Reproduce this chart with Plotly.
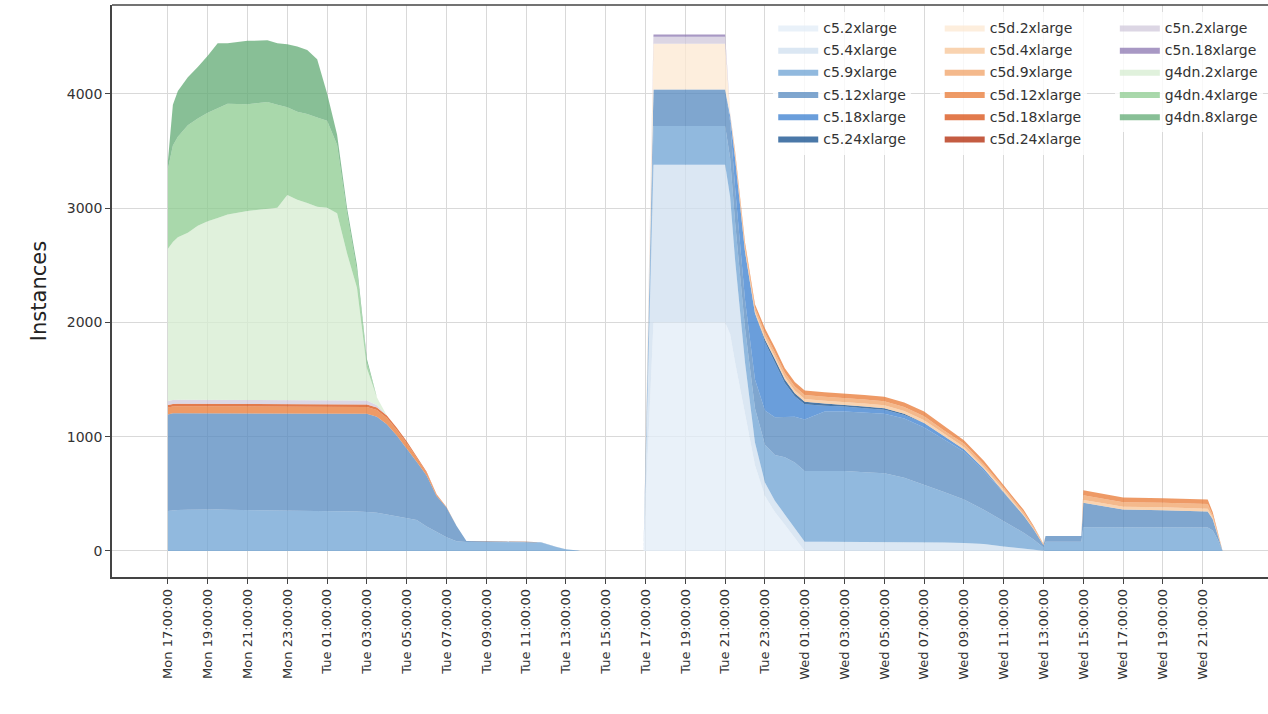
import pandas as pd
import plotly.graph_objects as go

# Sample times, in hours after Monday 17:00
hours = [
    0, 0.25, 0.5, 1, 1.5, 2, 2.5, 3, 4, 5, 5.5, 6, 6.5, 7, 7.5, 8, 8.5, 9, 9.5, 10,
    10.5, 11, 11.5, 12, 12.5, 13, 13.5, 14, 14.5, 15, 16, 17, 18, 18.75, 19.5, 20, 20.6,
    20.7, 23.9,
    24.4, 28.0, 28.25, 28.5, 29, 29.5, 30, 30.5, 31, 31.5, 32,
    33, 34, 35, 36, 37, 38, 39, 40, 41, 42, 43, 43.5, 44.0,
    44.1, 45.9, 46.0, 47, 48, 50, 52, 52.25, 52.5, 52.75, 53,
]

# Running instance counts per instance type (stack order = legend order)
c5_2xlarge = [
    0, 0, 0, 0, 0, 0, 0, 0, 0, 0, 0, 0, 0, 0, 0, 0, 0, 0, 0, 0,
    0, 0, 0, 0, 0, 0, 0, 0, 0, 0, 0, 0, 0, 0, 0, 0, 0,
    0, 0,
    2000, 2000, 1900, 1650, 1200, 750, 480, 340, 230, 110, 0,
    0, 0, 0, 0, 0, 0, 0, 0, 0, 0, 0, 0, 0,
    0, 0, 0, 0, 0, 0, 0, 0, 0, 0, 0,
]
c5_4xlarge = [
    0, 0, 0, 0, 0, 0, 0, 0, 0, 0, 0, 0, 0, 0, 0, 0, 0, 0, 0, 0,
    0, 0, 0, 0, 0, 0, 0, 0, 0, 0, 0, 0, 0, 0, 0, 0, 0,
    0, 0,
    1380, 1380, 1200, 900, 450, 200, 120, 100, 90, 85, 80,
    80, 80, 80, 80, 80, 80, 75, 70, 60, 40, 20, 10, 0,
    0, 0, 0, 0, 0, 0, 0, 0, 0, 0, 0,
]
c5_9xlarge = [
    350, 355, 358, 360, 362, 362, 362, 360, 358, 360, 358, 356, 356, 355, 352, 350, 350, 348, 345, 342,
    335, 320, 305, 290, 270, 215, 170, 120, 85, 78, 78, 77, 76, 74, 35, 15, 3,
    0, 0,
    340, 340, 340, 330, 300, 300, 330, 400, 500, 580, 620,
    620, 620, 610, 600, 560, 500, 440, 380, 300, 220, 140, 90, 30,
    80, 80, 207, 207, 207, 207, 207, 205, 180, 100, 0,
]
c5_12xlarge = [
    845, 850, 848, 846, 844, 843, 843, 845, 847, 845, 847, 849, 849, 850, 852, 855, 855, 857, 858, 858,
    840, 790, 705, 610, 510, 445, 310, 260, 135, 10, 5, 5, 4, 3, 2, 1, 0,
    0, 0,
    320, 320, 320, 300, 250, 250, 300, 330, 350, 400, 450,
    520, 520, 520, 520, 520, 500, 460, 420, 340, 250, 150, 90, 20,
    50, 50, 215, 185, 155, 150, 145, 140, 100, 40, 0,
]
c5_18xlarge = [
    0, 0, 0, 0, 0, 0, 0, 0, 0, 0, 0, 0, 0, 0, 0, 0, 0, 0, 0, 0,
    0, 0, 0, 0, 0, 0, 0, 0, 0, 0, 0, 0, 0, 0, 0, 0, 0,
    0, 0,
    0, 0, 50, 260, 420, 580, 600, 480, 300, 180, 135,
    50, 45, 40, 35, 30, 40, 30, 20, 20, 10, 0, 0, 0,
    0, 0, 0, 0, 0, 0, 0, 0, 0, 0, 0,
]
c5_24xlarge = [
    0, 0, 0, 0, 0, 0, 0, 0, 0, 0, 0, 0, 0, 0, 0, 0, 0, 0, 0, 0,
    0, 0, 0, 0, 0, 0, 0, 0, 0, 0, 0, 0, 0, 0, 0, 0, 0,
    0, 0,
    0, 0, 0, 0, 0, 0, 20, 30, 30, 25, 20,
    20, 15, 15, 15, 10, 0, 0, 0, 0, 0, 0, 0, 0,
    0, 0, 0, 0, 0, 0, 0, 0, 0, 0, 0,
]
c5d_2xlarge = [
    0, 0, 0, 0, 0, 0, 0, 0, 0, 0, 0, 0, 0, 0, 0, 0, 0, 0, 0, 0,
    0, 0, 0, 0, 0, 0, 0, 0, 0, 0, 0, 0, 0, 0, 0, 0, 0,
    0, 0,
    400, 400, 20, 10, 0, 0, 0, 0, 0, 0, 0,
    0, 0, 0, 0, 0, 0, 0, 0, 0, 0, 0, 0, 0,
    0, 0, 0, 0, 0, 0, 0, 0, 0, 0, 0,
]
c5d_4xlarge = [
    0, 0, 0, 0, 0, 0, 0, 0, 0, 0, 0, 0, 0, 0, 0, 0, 0, 0, 0, 0,
    0, 0, 0, 0, 0, 0, 0, 0, 0, 0, 0, 0, 0, 0, 0, 0, 0,
    0, 0,
    0, 0, 0, 10, 20, 20, 25, 25, 25, 25, 25,
    25, 25, 25, 25, 25, 25, 20, 20, 15, 15, 10, 5, 0,
    0, 0, 25, 25, 25, 25, 25, 25, 15, 5, 0,
]
c5d_9xlarge = [
    0, 0, 0, 0, 0, 0, 0, 0, 0, 0, 0, 0, 0, 0, 0, 0, 0, 0, 0, 0,
    0, 0, 0, 0, 0, 0, 0, 0, 0, 0, 0, 0, 0, 0, 0, 0, 0,
    0, 0,
    0, 0, 0, 20, 30, 30, 35, 35, 35, 35, 35,
    35, 35, 35, 35, 35, 35, 30, 30, 25, 20, 20, 15, 10,
    0, 0, 40, 40, 40, 40, 40, 40, 20, 5, 0,
]
c5d_12xlarge = [
    60, 60, 60, 60, 60, 60, 60, 60, 60, 60, 60, 60, 60, 60, 60, 60, 60, 60, 60, 60,
    58, 55, 50, 45, 35, 25, 12, 5, 0, 0, 0, 0, 0, 0, 0, 0, 0,
    0, 0,
    0, 0, 0, 20, 30, 30, 40, 40, 40, 40, 40,
    40, 40, 40, 40, 40, 40, 40, 30, 30, 25, 20, 10, 0,
    0, 0, 45, 40, 40, 40, 40, 40, 25, 10, 0,
]
c5d_18xlarge = [
    22, 22, 22, 22, 22, 22, 22, 22, 22, 22, 22, 22, 22, 22, 22, 22, 22, 22, 22, 22,
    22, 20, 18, 15, 12, 8, 4, 0, 0, 0, 0, 0, 0, 0, 0, 0, 0,
    0, 0,
    0, 0, 0, 0, 0, 0, 0, 0, 0, 0, 0,
    0, 0, 0, 0, 0, 0, 0, 0, 0, 0, 0, 0, 0,
    0, 0, 0, 0, 0, 0, 0, 0, 0, 0, 0,
]
c5d_24xlarge = [
    0, 0, 0, 0, 0, 0, 0, 0, 0, 0, 0, 0, 0, 0, 0, 0, 0, 0, 0, 0,
    0, 0, 0, 0, 0, 0, 0, 0, 0, 0, 0, 0, 0, 0, 0, 0, 0,
    0, 0,
    0, 0, 0, 0, 0, 0, 0, 0, 0, 0, 0,
    0, 0, 0, 0, 0, 0, 0, 0, 0, 0, 0, 0, 0,
    0, 0, 0, 0, 0, 0, 0, 0, 0, 0, 0,
]
c5n_2xlarge = [
    35, 35, 35, 35, 35, 35, 35, 35, 35, 35, 35, 35, 35, 35, 35, 35, 35, 35, 35, 35,
    20, 0, 0, 0, 0, 0, 0, 0, 0, 0, 0, 0, 0, 0, 0, 0, 0,
    0, 0,
    60, 60, 10, 0, 0, 0, 0, 0, 0, 0, 0,
    0, 0, 0, 0, 0, 0, 0, 0, 0, 0, 0, 0, 0,
    0, 0, 0, 0, 0, 0, 0, 0, 0, 0, 0,
]
c5n_18xlarge = [
    0, 0, 0, 0, 0, 0, 0, 0, 0, 0, 0, 0, 0, 0, 0, 0, 0, 0, 0, 0,
    0, 0, 0, 0, 0, 0, 0, 0, 0, 0, 0, 0, 0, 0, 0, 0, 0,
    0, 0,
    20, 20, 0, 0, 0, 0, 0, 0, 0, 0, 0,
    0, 0, 0, 0, 0, 0, 0, 0, 0, 0, 0, 0, 0,
    0, 0, 0, 0, 0, 0, 0, 0, 0, 0, 0,
]
g4dn_2xlarge = [
    1333, 1383, 1423, 1463, 1523, 1563, 1593, 1623, 1653, 1673, 1683, 1793, 1753, 1723, 1693, 1683, 1633, 1283, 983, 283,
    70, 0, 0, 0, 0, 0, 0, 0, 0, 0, 0, 0, 0, 0, 0, 0, 0,
    0, 0,
    0, 0, 0, 0, 0, 0, 0, 0, 0, 0, 0,
    0, 0, 0, 0, 0, 0, 0, 0, 0, 0, 0, 0, 0,
    0, 0, 0, 0, 0, 0, 0, 0, 0, 0, 0,
]
g4dn_4xlarge = [
    700, 845, 880, 940, 940, 950, 960, 970, 935, 935, 900, 770, 770, 780, 780, 760, 600, 350, 150, 50,
    0, 0, 0, 0, 0, 0, 0, 0, 0, 0, 0, 0, 0, 0, 0, 0, 0,
    0, 0,
    0, 0, 0, 0, 0, 0, 0, 0, 0, 0, 0,
    0, 0, 0, 0, 0, 0, 0, 0, 0, 0, 0, 0, 0,
    0, 0, 0, 0, 0, 0, 0, 0, 0, 0, 0,
]
g4dn_8xlarge = [
    70, 355, 400, 420, 450, 500, 570, 530, 555, 540, 540, 550, 570, 560, 510, 240, 90, 50, 50, 30,
    0, 0, 0, 0, 0, 0, 0, 0, 0, 0, 0, 0, 0, 0, 0, 0, 0,
    0, 0,
    0, 0, 0, 0, 0, 0, 0, 0, 0, 0, 0,
    0, 0, 0, 0, 0, 0, 0, 0, 0, 0, 0, 0, 0,
    0, 0, 0, 0, 0, 0, 0, 0, 0, 0, 0,
]

series = [
    ("c5.2xlarge", c5_2xlarge, "#e9f1f9", "#dfe6ee", "legend"),
    ("c5.4xlarge", c5_4xlarge, "#dbe7f3", "#c9d9e6", "legend"),
    ("c5.9xlarge", c5_9xlarge, "#91b9de", "#a8c4dc", "legend"),
    ("c5.12xlarge", c5_12xlarge, "#7fa6cf", "#7d9fc1", "legend"),
    ("c5.18xlarge", c5_18xlarge, "#6a9edb", "#5b8cc4", "legend"),
    ("c5.24xlarge", c5_24xlarge, "#4a78a8", "#3e6a98", "legend"),
    ("c5d.2xlarge", c5d_2xlarge, "#fdeedd", "#fbe8d6", "legend2"),
    ("c5d.4xlarge", c5d_4xlarge, "#f9d3b0", "#f8d0ae", "legend2"),
    ("c5d.9xlarge", c5d_9xlarge, "#f4b98c", "#f3b88c", "legend2"),
    ("c5d.12xlarge", c5d_12xlarge, "#ee9a66", "#ec9a60", "legend2"),
    ("c5d.18xlarge", c5d_18xlarge, "#e27a4c", "#e07848", "legend2"),
    ("c5d.24xlarge", c5d_24xlarge, "#c45c42", "#c05a40", "legend2"),
    ("c5n.2xlarge", c5n_2xlarge, "#dcd6e4", "#d4d0e0", "legend3"),
    ("c5n.18xlarge", c5n_18xlarge, "#a898c4", "#8a84c0", "legend3"),
    ("g4dn.2xlarge", g4dn_2xlarge, "#e0f1dc", "#d8ecd2", "legend3"),
    ("g4dn.4xlarge", g4dn_4xlarge, "#a9d8ab", "#8ccc94", "legend3"),
    ("g4dn.8xlarge", g4dn_8xlarge, "#88bf96", "#5aa870", "legend3"),
]

ALPHA = 0.75


def translucent(hex_color, alpha=ALPHA):
    """Colour that, drawn at `alpha` over white, shows as `hex_color`."""
    h = hex_color.lstrip("#")
    rgb = [int(h[i:i + 2], 16) for i in (0, 2, 4)]
    src = [max(0, min(255, round((c - (1 - alpha) * 255) / alpha))) for c in rgb]
    return f"rgba({src[0]},{src[1]},{src[2]},{alpha})"


start = pd.Timestamp("2024-01-01 17:00:00")  # a Monday
times = [start + pd.Timedelta(hours=h) for h in hours]

fig = go.Figure()
for name, values, fill, swatch, legend_id in series:
    fig.add_trace(go.Scatter(
        x=times, y=values, name=name, mode="lines",
        stackgroup="one", fillcolor=translucent(fill),
        line=dict(width=0, color=swatch),
        legend=legend_id, legendgroup=name,
        hoverinfo="x+y+name",
    ))

tick_times = pd.date_range(start, start + pd.Timedelta(hours=52), freq="2h")
x_lo = start + pd.Timedelta(hours=-2.81)
x_hi = start + pd.Timedelta(hours=55.28)

axis_font = dict(family="DejaVu Sans", size=13, color="#333333")
legend_common = dict(
    bgcolor="rgba(255,255,255,0.8)", borderwidth=0,
    font=dict(family="DejaVu Sans", size=14, color="#333333"),
    xanchor="left", yanchor="top", y=0.988,
    itemwidth=40, tracegroupgap=1, traceorder="grouped",
)

fig.update_layout(
    width=1268, height=714,
    margin=dict(l=112, r=0, t=5, b=137),
    plot_bgcolor="white", paper_bgcolor="white",
    showlegend=True,
    legend=dict(x=0.572, **legend_common),
    legend2=dict(x=0.716, **legend_common),
    legend3=dict(x=0.8675, **legend_common),
    xaxis=dict(
        type="date", range=[x_lo, x_hi],
        tickvals=tick_times, tickformat="%a %H:%M:%S", tickangle=-90,
        tickfont=axis_font, ticks="outside", ticklen=5, tickcolor="#444444",
        showgrid=True, gridcolor="#d9d9d9", gridwidth=1,
        showline=True, linecolor="#444444", linewidth=1.5,
        zeroline=False,
    ),
    yaxis=dict(
        range=[-228, 4779], tickvals=[0, 1000, 2000, 3000, 4000],
        tickfont=dict(family="DejaVu Sans", size=14, color="#333333"),
        ticks="outside", ticklen=5, tickcolor="#444444",
        showgrid=True, gridcolor="#d9d9d9", gridwidth=1,
        showline=True, linecolor="#444444", linewidth=1.5,
        zeroline=False,
        title=dict(text="Instances", font=dict(family="DejaVu Sans", size=21, color="#222222"), standoff=14),
    ),
    shapes=[dict(type="line", xref="paper", yref="paper", x0=0, x1=1, y0=1, y1=1,
                 line=dict(color="#444444", width=1.5))],
)

fig.write_html("out.html")
